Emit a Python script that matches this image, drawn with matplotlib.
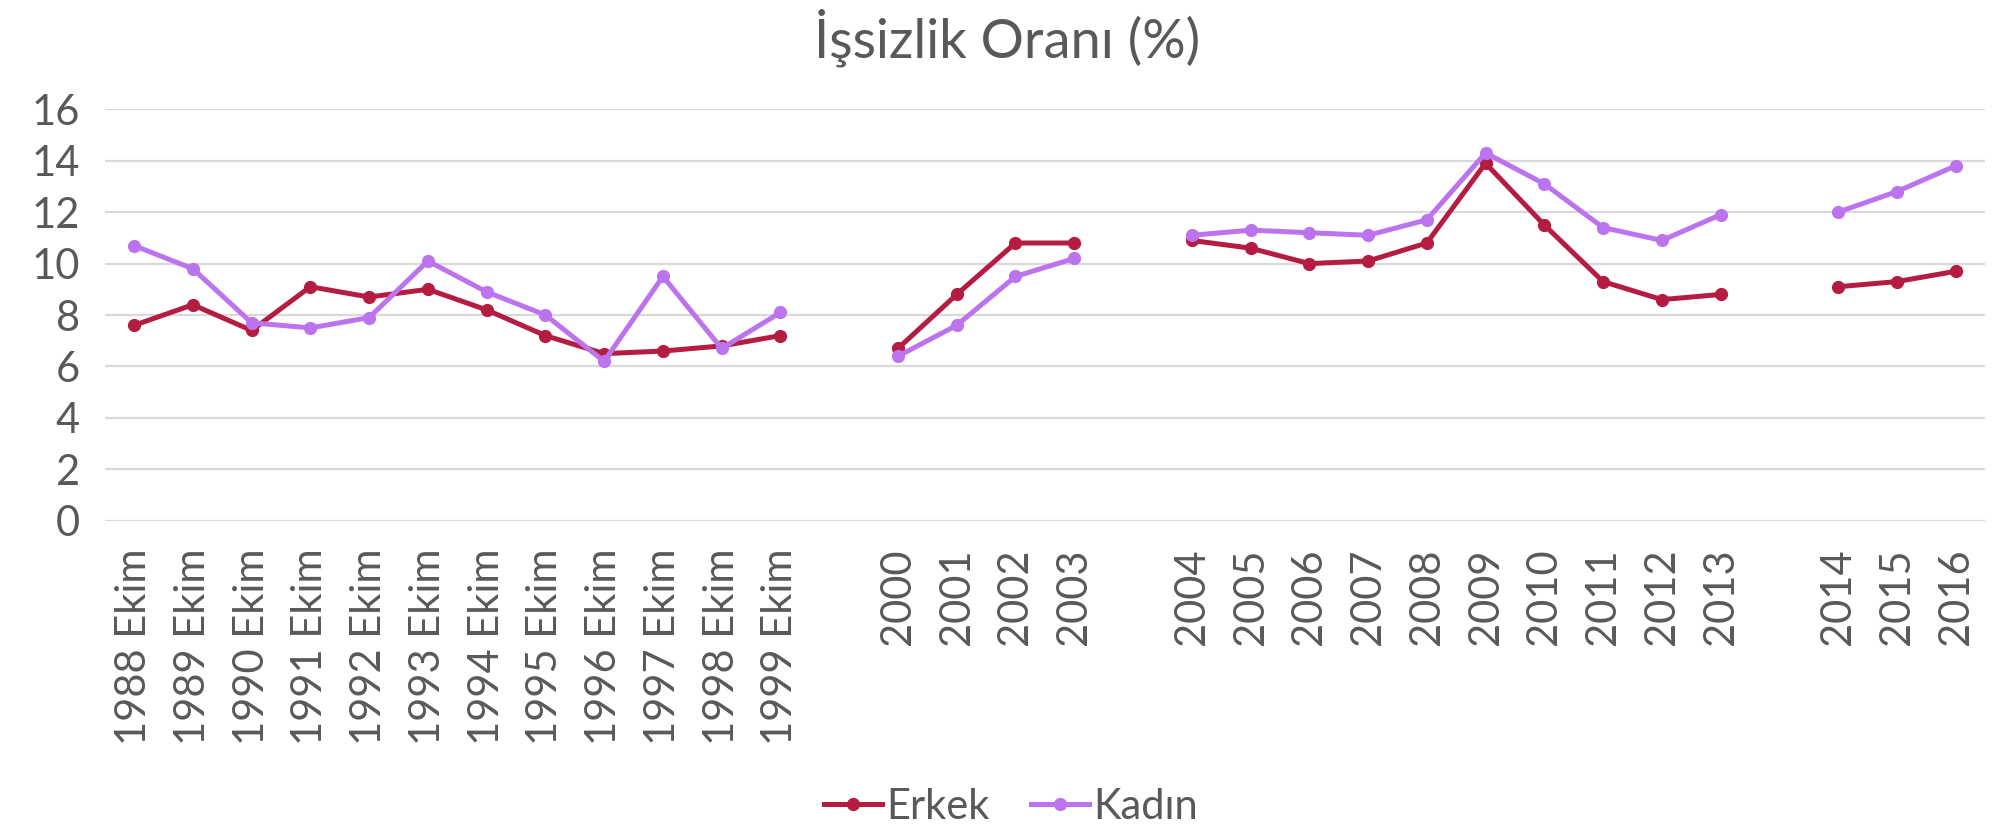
import numpy as np
import matplotlib
matplotlib.use("Agg")
import matplotlib.pyplot as plt

plt.rcParams['font.family'] = ['Lato', 'DejaVu Sans']

# categories (empty strings are the gaps between the series blocks)
categories = ["1988 Ekim", "1989 Ekim", "1990 Ekim", "1991 Ekim", "1992 Ekim",
              "1993 Ekim", "1994 Ekim", "1995 Ekim", "1996 Ekim", "1997 Ekim",
              "1998 Ekim", "1999 Ekim", "",
              "2000", "2001", "2002", "2003", "",
              "2004", "2005", "2006", "2007", "2008", "2009", "2010", "2011",
              "2012", "2013", "",
              "2014", "2015", "2016"]

nan = np.nan
erkek = [7.6, 8.4, 7.4, 9.1, 8.7, 9.0, 8.2, 7.2, 6.5, 6.6, 6.8, 7.2, nan,
         6.7, 8.8, 10.8, 10.8, nan,
         10.9, 10.6, 10.0, 10.1, 10.8, 13.9, 11.5, 9.3, 8.6, 8.8, nan,
         9.1, 9.3, 9.7]
kadin = [10.7, 9.8, 7.7, 7.5, 7.9, 10.1, 8.9, 8.0, 6.2, 9.5, 6.7, 8.1, nan,
         6.4, 7.6, 9.5, 10.2, nan,
         11.1, 11.3, 11.2, 11.1, 11.7, 14.3, 13.1, 11.4, 10.9, 11.9, nan,
         12.0, 12.8, 13.8]

text_color = "#595959"
erkek_color = "#B51C41"
kadin_color = "#BC74EE"

fig = plt.figure(figsize=(19.98, 8.32), dpi=100)
ax = fig.add_axes([0.0524, 0.374, 0.9411, 0.4947])

x = np.arange(len(categories))
ax.plot(x, erkek, color=erkek_color, lw=3.6, marker="o", ms=8.5, label="Erkek")
ax.plot(x, kadin, color=kadin_color, lw=3.6, marker="o", ms=8.5, label="Kadın")

ax.set_xlim(-0.5, len(categories) - 0.5)
ax.set_ylim(0, 16)
ax.set_yticks(range(0, 17, 2))
ax.set_xticks(x)
ax.set_xticklabels(categories, rotation=90)
ax.grid(axis="y", color="#D9D9D9", lw=1.6)
ax.set_axisbelow(True)
for s in ax.spines.values():
    s.set_visible(False)
ax.tick_params(axis="both", length=0, labelsize=30, labelcolor=text_color)
ax.tick_params(axis="y", pad=18)
ax.tick_params(axis="x", pad=20)

fig.text(0.504, 0.955, "İşsizlik Oranı (%)", ha="center", va="center",
         fontsize=39, color=text_color)

leg = fig.legend(loc="center", bbox_to_anchor=(0.506, 0.03), ncol=2,
                 frameon=False, fontsize=30, handlelength=1.4,
                 handletextpad=0.1, columnspacing=1.0, labelcolor=text_color)

fig.savefig("out.png", dpi=100)
